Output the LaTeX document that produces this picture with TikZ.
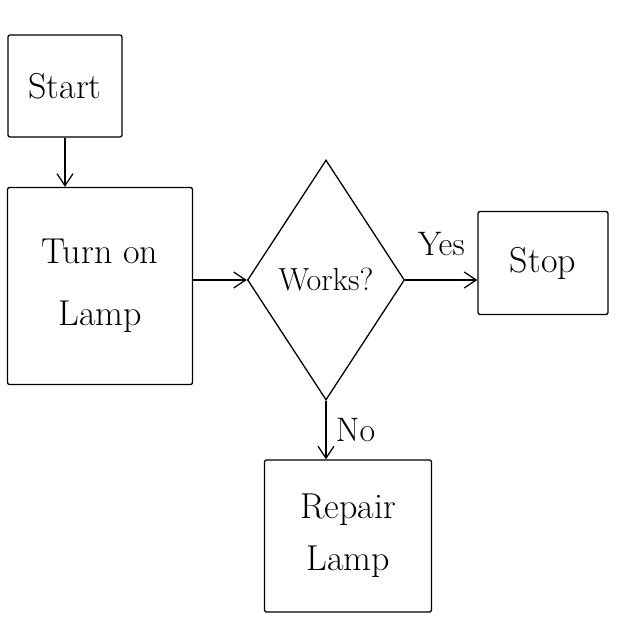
\documentclass[tikz,border=0pt]{standalone}
\usetikzlibrary{shapes.geometric,arrows.meta}
\tikzset{
  box/.style={draw,line width=1.3pt,rounded corners=2pt,inner sep=0pt,align=center,font=\fontsize{36}{48}\selectfont},
  decision/.style={draw,diamond,line width=1.3pt,inner sep=0pt,font=\fontsize{32}{40}\selectfont},
  flow/.style={-{Straight Barb[length=12pt,width=16pt]},line width=1.3pt},
  lbl/.style={font=\fontsize{34}{40}\selectfont}
}
\begin{document}
\begin{tikzpicture}[x=1pt,y=-1pt]
        \useasboundingbox[fill=white] (0,0) rectangle (640,640);
        \node[box,minimum width=114pt,minimum height=102pt] (start) at (65,86) {Start};
        \node[box,minimum width=185pt,minimum height=197pt] (turnon) at (100,286) {Turn on\\[14pt]Lamp};
        \node[decision,minimum width=157pt,minimum height=240pt] (works) at (326,280) {Works?};
        \node[box,minimum width=130pt,minimum height=103pt] (stop) at (543,263) {Stop};
        \node[box,minimum width=167pt,minimum height=152pt] (repair) at (348,536) {Repair\\[4pt]Lamp};

        \draw[flow] (start.south) -- (turnon.north -| start.south);
        \draw[flow] (turnon.east |- works.west) -- (works.west);
        \draw[flow] (works.east) -- node[lbl,above=20pt] (yes) {Yes} (stop.west |- works.east);
        \draw[flow] (works.south) -- node[lbl,right=6pt] (no) {No} (repair.north -| works.south);
    \end{tikzpicture}
\end{document}
